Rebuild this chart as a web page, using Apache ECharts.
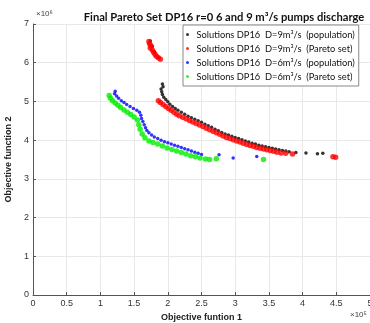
<!DOCTYPE html>
<html>
<head>
<meta charset="utf-8">
<script src="https://cdn.jsdelivr.net/npm/echarts@6/dist/echarts.min.js"></script>
<style>
  html, body { margin: 0; padding: 0; background: #fff; }
  #main { width: 370px; height: 323px; }
</style>
</head>
<body>
<div id="main"></div>
<script>
// Objective 1 (x10^5), Objective 2 (x10^6)
var pop9 = [
  [1.74,6.56],[1.77,6.42],[1.8,6.28],[1.86,6.14],
  [1.92,5.45],[1.93,5.38],[1.9,5.32],[1.91,5.25],[1.92,5.18],[1.94,5.11],[1.97,5.05],[2.0,4.99],
  [2.03,4.93],[2.07,4.87],[2.11,4.82],[2.15,4.77],[2.2,4.72],[2.25,4.67],[2.3,4.62],[2.35,4.58],
  [2.4,4.54],[2.45,4.5],[2.5,4.46],[2.55,4.41],[2.6,4.37],[2.65,4.33],[2.7,4.28],[2.75,4.24],
  [2.8,4.2],[2.85,4.16],[2.9,4.13],[2.95,4.1],[3.0,4.07],[3.05,4.04],[3.1,4.01],[3.15,3.98],
  [3.2,3.95],[3.25,3.92],[3.3,3.9],[3.35,3.87],[3.4,3.85],[3.45,3.83],[3.5,3.81],[3.55,3.79],
  [3.6,3.77],[3.65,3.75],[3.7,3.73],[3.75,3.72],[3.8,3.7],[3.9,3.68],[4.05,3.67],[4.22,3.65],[4.3,3.66]
];
var pareto9 = [
  [1.72,6.55],[1.73,6.49],[1.75,6.44],[1.74,6.38],[1.77,6.33],[1.79,6.27],[1.81,6.22],[1.83,6.17],
  [1.86,6.13],[1.89,6.09],
  [1.86,5.02],[1.89,4.97],[1.93,4.92],[1.97,4.87],[2.01,4.82],[2.05,4.77],[2.09,4.72],[2.13,4.67],
  [2.17,4.63],[2.22,4.59],[2.27,4.55],[2.32,4.51],[2.37,4.47],[2.42,4.43],[2.47,4.39],[2.52,4.35],
  [2.57,4.31],[2.62,4.27],[2.67,4.23],[2.72,4.19],[2.77,4.15],[2.82,4.11],[2.87,4.07],[2.92,4.04],
  [2.97,4.01],[3.02,3.98],[3.07,3.95],[3.12,3.92],[3.17,3.89],[3.22,3.86],[3.27,3.84],[3.32,3.81],
  [3.37,3.79],[3.42,3.77],[3.47,3.75],[3.52,3.73],[3.57,3.71],[3.62,3.69],[3.68,3.67],[3.75,3.66],
  [3.85,3.64],[4.45,3.57],[4.49,3.56]
];
var pop6 = [
  [1.22,5.26],[1.21,5.2],[1.24,5.14],[1.27,5.08],[1.31,5.02],[1.35,4.97],[1.39,4.92],[1.44,4.87],
  [1.49,4.82],[1.54,4.77],[1.58,4.72],[1.6,4.64],[1.61,4.56],[1.63,4.48],[1.65,4.4],[1.67,4.32],
  [1.69,4.25],[1.72,4.19],[1.76,4.13],[1.8,4.08],[1.85,4.04],[1.9,4.0],[1.95,3.96],[2.0,3.93],
  [2.05,3.9],[2.1,3.87],[2.15,3.84],[2.2,3.81],[2.25,3.78],[2.3,3.75],[2.35,3.72],[2.4,3.69],
  [2.45,3.66],[2.5,3.63],[2.76,3.62],[2.97,3.54],[3.32,3.58]
];
var pareto6 = [
  [1.13,5.15],[1.15,5.08],[1.18,5.02],[1.22,4.96],[1.26,4.9],[1.3,4.84],[1.35,4.78],[1.4,4.72],
  [1.45,4.66],[1.5,4.6],[1.55,4.52],[1.57,4.4],[1.59,4.28],[1.62,4.16],[1.66,4.06],[1.72,3.98],
  [1.78,3.94],[1.85,3.9],[1.92,3.85],[1.99,3.8],[2.06,3.76],[2.13,3.72],[2.2,3.68],[2.27,3.64],
  [2.34,3.6],[2.41,3.57],[2.48,3.54],[2.56,3.51],[2.62,3.5],[2.72,3.52],[3.42,3.5]
];
var seriesNames = [
  'Solutions DP16  D=9m\u00b3/s  (population)',
  'Solutions DP16  D=9m\u00b3/s  (Pareto set)',
  'Solutions DP16  D=6m\u00b3/s  (population)',
  'Solutions DP16  D=6m\u00b3/s  (Pareto set)'
];

var chart = echarts.init(document.getElementById('main'), null, { renderer: 'canvas' });

var axisCommon = {
  axisLine: { lineStyle: { color: '#555' } },
  axisTick: { inside: true, length: 3, lineStyle: { color: '#555' } },
  splitLine: { show: true, lineStyle: { color: '#e8e8e8' } },
  axisLabel: { color: '#333', fontSize: 9, fontFamily: 'Liberation Sans', margin: 4 }
};

var option = {
  animation: false,
  title: {
    text: 'Final Pareto Set DP16 r=0 6 and 9 m\u00b3/s pumps discharge',
    left: 219, top: 7, textAlign: 'center',
    textStyle: { fontSize: 11.2, fontWeight: 'bold', color: '#111', fontFamily: 'Lato' }
  },
  legend: {
    orient: 'vertical',
    left: 183, top: 25,
    padding: [5, 4, 5, 3],
    itemGap: 5,
    itemWidth: 8, itemHeight: 3,
    icon: 'circle',
    backgroundColor: '#fff',
    borderColor: '#888', borderWidth: 1,
    textStyle: { fontSize: 9.3, color: '#111', fontFamily: 'Lato' },
    data: seriesNames
  },
  grid: { left: 33, right: 0, top: 24, bottom: 28, outerBoundsMode: 'none' },
  xAxis: Object.assign({
    type: 'value', min: 0, max: 5, interval: 0.5,
    name: 'Objective funtion 1', nameLocation: 'middle', nameGap: 16,
    nameTextStyle: { fontSize: 9, fontWeight: 'bold', color: '#222', fontFamily: 'Liberation Sans' }
  }, axisCommon),
  yAxis: Object.assign({
    type: 'value', min: 0, max: 7, interval: 1,
    name: 'Objective function 2', nameLocation: 'middle', nameGap: 11,
    nameTextStyle: { fontSize: 9, fontWeight: 'bold', color: '#222', fontFamily: 'Liberation Sans' }
  }, axisCommon),
  graphic: [
    { type: 'text', left: 36, top: 10, style: { text: '\u00d710\u2076', fontSize: 8, fill: '#444', fontFamily: 'Liberation Sans' } },
    { type: 'text', left: 350, top: 311, style: { text: '\u00d710\u2075', fontSize: 8, fill: '#444', fontFamily: 'Liberation Sans' } }
  ],
  series: [
    { name: seriesNames[0], type: 'scatter', data: pop9, symbolSize: 3.5, itemStyle: { color: '#000' } },
    { name: seriesNames[1], type: 'scatter', data: pareto9, symbolSize: 5.5, itemStyle: { color: '#ff0000' } },
    { name: seriesNames[2], type: 'scatter', data: pop6, symbolSize: 3.5, itemStyle: { color: '#0000ff' } },
    { name: seriesNames[3], type: 'scatter', data: pareto6, symbolSize: 5.5, itemStyle: { color: '#00ee00' } }
  ]
};
chart.setOption(option);
</script>
</body>
</html>
